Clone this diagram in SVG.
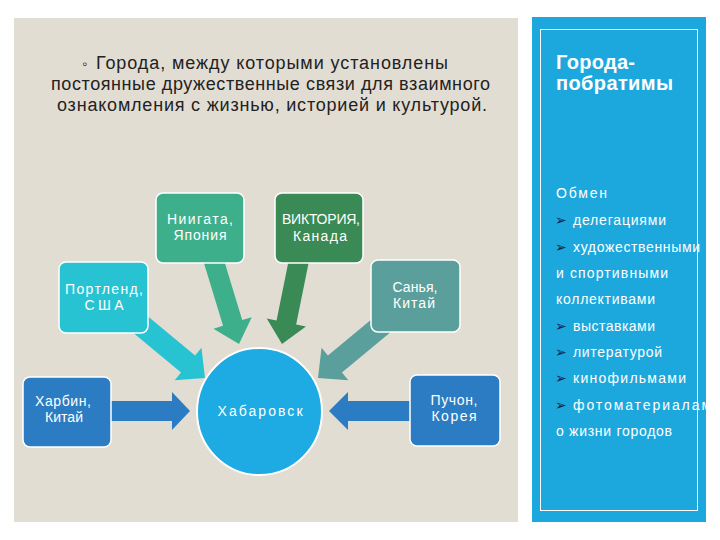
<svg xmlns="http://www.w3.org/2000/svg" width="720" height="540" viewBox="0 0 720 540">
<defs>
<style>
.t{font-family:"Liberation Sans",Arial,sans-serif;}
.title{font-size:18px;fill:#222;}
.nt{font-size:14px;fill:#fff;text-anchor:middle;}
.box{stroke:#fff;stroke-width:1.5;}
.li{font-size:14px;fill:#fff;}
.bul{font-family:"DejaVu Sans",sans-serif;font-size:14px;fill:#13234a;}
</style>
<clipPath id="panelClip"><rect x="532" y="17" width="174" height="505"/></clipPath>
</defs>
<rect width="720" height="540" fill="#ffffff"/>
<rect x="14" y="18" width="504" height="504" fill="#e2ddd3"/>
<rect x="532" y="17" width="174" height="505" fill="#1ca8dc"/>
<rect x="540.5" y="29.5" width="157" height="481" fill="none" stroke="#ffffff" stroke-width="1"/>

<g id="title" class="t title">
<text x="82" y="69" font-size="15">◦</text>
<text x="96" y="69" textLength="352">Города, между которыми установлены</text>
<text x="51" y="90" textLength="439">постоянные дружественные связи для взаимного</text>
<text x="57" y="111" textLength="430">ознакомления с жизнью, историей и культурой.</text>
</g>

<g id="side" class="t">
<text x="556" y="69" font-size="20" font-weight="bold" fill="#fff" textLength="79">Города-</text>
<text x="556" y="90" font-size="20" font-weight="bold" fill="#fff" textLength="117">побратимы</text>
<g clip-path="url(#panelClip)">
<text class="li" x="556" y="198" textLength="51">Обмен</text>
<text class="bul" x="555" y="225">➢</text><text class="li" x="573" y="225" textLength="93">делегациями</text>
<text class="bul" x="555" y="252">➢</text><text class="li" x="573" y="252" textLength="127">художественными</text>
<text class="li" x="556" y="278" textLength="112">и  спортивными</text>
<text class="li" x="556" y="304" textLength="99">коллективами</text>
<text class="bul" x="555" y="331">➢</text><text class="li" x="573" y="331" textLength="82">выставками</text>
<text class="bul" x="555" y="357">➢</text><text class="li" x="573" y="357" textLength="89">литературой</text>
<text class="bul" x="555" y="383">➢</text><text class="li" x="573" y="383" textLength="113">кинофильмами</text>
<text class="bul" x="555" y="410">➢</text><text class="li" x="573" y="410" textLength="138">фотоматериалам</text>
<text class="li" x="556" y="436" textLength="116">о жизни городов</text>
</g>
</g>

<g id="connectors">
<polygon fill="#27c3d2" points="127.98,328.47 181.04,372.43 174.66,380.13 205,378 201.46,347.79 195.08,355.49 142.02,311.53"/>
<polygon fill="#3daf8b" points="202.43,257.9 223.04,325.85 213.47,328.75 239,344 251.75,317.15 242.18,320.05 221.57,252.1"/>
<polygon fill="#3a8a56" points="290.2,253.02 276.56,320.46 266.76,318.48 282,344 305.96,326.4 296.16,324.42 309.8,256.98"/>
<polygon fill="#5b9f9c" points="395.02,328.47 341.96,372.43 348.34,380.13 318,378 321.54,347.79 327.92,355.49 380.98,311.53"/>
<polygon fill="#2b7cc2" points="105,401 172,401 172,392 190,411 172,430 172,421 105,421"/>
<polygon fill="#2b7cc2" points="416,401 348,401 348,392 329,411 348,430 348,421 416,421"/>
</g>

<g id="niigata" class="t">
<rect class="box" x="156" y="193" width="88" height="70" rx="7" fill="#3daf8b"/>
<text class="nt" x="200" y="224" textLength="66">Ниигата,</text>
<text class="nt" x="200" y="240" textLength="53">Япония</text>
</g>
<g id="victoria" class="t">
<rect class="box" x="275" y="193" width="88" height="70" rx="7" fill="#3a8a56"/>
<text class="nt" x="321" y="224" font-size="12.5" textLength="78">ВИКТОРИЯ,</text>
<text class="nt" x="320" y="241" textLength="54">Канада</text>
</g>
<g id="portland" class="t">
<rect class="box" x="59" y="262" width="89" height="71" rx="7" fill="#27c3d2"/>
<text class="nt" x="104" y="294" textLength="78">Портленд,</text>
<text class="nt" x="104" y="310" textLength="39">США</text>
</g>
<g id="sanya" class="t">
<rect class="box" x="371" y="260" width="89" height="72" rx="7" fill="#5b9f9c"/>
<text class="nt" x="415" y="292" textLength="45">Санья,</text>
<text class="nt" x="414" y="308" textLength="42">Китай</text>
</g>
<g id="harbin" class="t">
<rect class="box" x="23" y="377" width="88" height="70" rx="7" fill="#2b7cc2"/>
<text class="nt" x="63" y="406" textLength="56">Харбин,</text>
<text class="nt" x="64" y="422" textLength="38">Китай</text>
</g>
<g id="pucheon" class="t">
<rect class="box" x="410" y="375" width="90" height="71" rx="7" fill="#2b7cc2"/>
<text class="nt" x="454" y="405" textLength="47">Пучон,</text>
<text class="nt" x="454" y="421" textLength="45">Корея</text>
</g>
<g id="khabarovsk" class="t">
<ellipse cx="259.5" cy="411.5" rx="62.5" ry="63.5" fill="#1eaae2" stroke="#fff" stroke-width="2"/>
<text class="nt" x="260" y="416" textLength="85">Хабаровск</text>
</g>
</svg>
